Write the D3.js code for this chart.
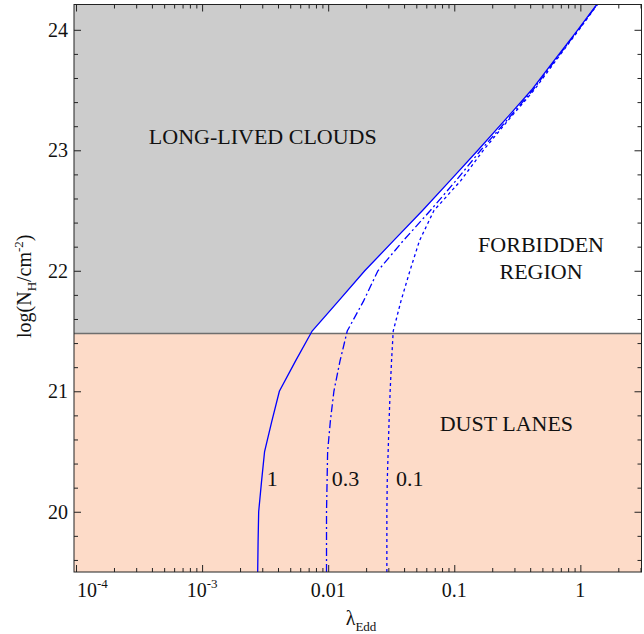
<!DOCTYPE html>
<html>
<head>
<meta charset="utf-8">
<script src="https://cdn.jsdelivr.net/npm/d3@7"></script>
<style>
  body { margin: 0; background: #fff; }
  svg text { font-family: "Liberation Serif", "Times New Roman", serif; fill: #111; }
</style>
</head>
<body>
<div id="chart"></div>
<script>
// log(N_H) grid shared by the three curves
const logNH = [19.5, 19.75, 20.0, 20.25, 20.5, 20.75, 21.0, 21.25, 21.5, 21.75,
  22.0, 22.25, 22.5, 22.75, 23.0, 23.25, 23.5, 23.75, 24.0, 24.25];

// lambda_Edd of each curve
const lambdaOne = [0.00276, 0.00278, 0.00281, 0.00296, 0.00313, 0.00357, 0.0041, 0.0055, 0.00746, 0.0121,
  0.0195, 0.033, 0.056, 0.093, 0.154, 0.252, 0.41, 0.625, 0.955, 1.44];
const lambdaPoint3 = [0.0097, 0.0097, 0.0097, 0.0098, 0.0099, 0.0104, 0.0111, 0.0124, 0.01416, 0.0191,
  0.0248, 0.0394, 0.0646, 0.1035, 0.162, 0.262, 0.42, 0.635, 0.965, 1.45];
const lambdaPoint1 = [0.0292, 0.0292, 0.0292, 0.0294, 0.0299, 0.0304, 0.031, 0.0318, 0.0328, 0.0378,
  0.0445, 0.053, 0.069, 0.113, 0.17, 0.268, 0.43, 0.645, 0.975, 1.46];

const curveNames = ["1", "0.3", "0.1"];
const dustLimit = 21.48; // boundary between dust lanes and clouds

// axis ticks
const xMajor = [1e-4, 1e-3, 0.01, 0.1, 1];
const xMajorText = [["10", "-4"], ["10", "-3"], ["0.01"], ["0.1"], ["1"]];
const yMajor = [20, 21, 22, 23, 24];

// plot frame and styles
const width = 644;
const height = 634;
const plot = { left: 74, right: 641.5, top: 4.5, bottom: 572 };
const colors = {
  clouds: "#cccccc",
  dust: "#fddbc8",
  limit: "#6e6e6e",
  curve: "#0000ff",
  frame: "#222"
};
const dashes = ["none", "8,3,2,3", "3,3"];

const x = d3.scaleLog()
  .domain([Math.pow(10, -4.016), Math.pow(10, 0.485)])
  .range([plot.left, plot.right]);
const y = d3.scaleLinear()
  .domain([19.5, 24.21])
  .range([plot.bottom, plot.top]);

const svg = d3.select("#chart").append("svg")
  .attr("width", width)
  .attr("height", height);

svg.append("rect").attr("width", width).attr("height", height).attr("fill", "#fff");

const defs = svg.append("defs");
defs.append("clipPath").attr("id", "plot-clip")
  .append("rect")
  .attr("x", plot.left).attr("y", plot.top)
  .attr("width", plot.right - plot.left).attr("height", plot.bottom - plot.top);
defs.append("clipPath").attr("id", "cloud-clip")
  .append("rect")
  .attr("x", plot.left).attr("y", plot.top)
  .attr("width", plot.right - plot.left).attr("height", y(dustLimit) - plot.top);

// dust lanes band
svg.append("rect")
  .attr("x", plot.left)
  .attr("y", y(dustLimit))
  .attr("width", plot.right - plot.left)
  .attr("height", plot.bottom - y(dustLimit))
  .attr("fill", colors.dust);

// long-lived clouds: left of the lambda = 1 curve, above the dust limit
const cloudPts = [[x.domain()[0], 21.0]];
logNH.forEach(function(n, i) {
  if (n >= 21.0) cloudPts.push([lambdaOne[i], n]);
});
cloudPts.push([x.domain()[0], logNH[logNH.length - 1]]);

svg.append("path")
  .attr("clip-path", "url(#cloud-clip)")
  .attr("d", d3.line().x(d => x(d[0])).y(d => y(d[1]))(cloudPts) + "Z")
  .attr("fill", colors.clouds);

svg.append("line")
  .attr("x1", plot.left).attr("x2", plot.right)
  .attr("y1", y(dustLimit)).attr("y2", y(dustLimit))
  .attr("stroke", colors.limit)
  .attr("stroke-width", 1.5);

// curves
const curveLine = d3.line()
  .x(d => x(d[0]))
  .y(d => y(d[1]));

[lambdaOne, lambdaPoint3, lambdaPoint1].forEach(function(series, k) {
  svg.append("path")
    .attr("clip-path", "url(#plot-clip)")
    .attr("d", curveLine(series.map((v, i) => [v, logNH[i]])))
    .attr("fill", "none")
    .attr("stroke", colors.curve)
    .attr("stroke-width", 1.3)
    .attr("stroke-dasharray", dashes[k]);
});

// curve labels
const curveLabelPos = [[0.0036, 20.216], [0.01375, 20.216], [0.0443, 20.216]];
curveNames.forEach(function(name, k) {
  svg.append("text")
    .attr("x", x(curveLabelPos[k][0]))
    .attr("y", y(curveLabelPos[k][1]))
    .attr("text-anchor", "middle")
    .attr("font-size", 22)
    .text(name);
});

// region labels
function regionLabel(txt, lam, n) {
  svg.append("text")
    .attr("x", x(lam))
    .attr("y", y(n))
    .attr("text-anchor", "middle")
    .attr("font-size", 22)
    .text(txt);
}
regionLabel("LONG-LIVED CLOUDS", 0.00303, 23.05);
regionLabel("FORBIDDEN", 0.488, 22.153);
regionLabel("REGION", 0.488, 21.93);
regionLabel("DUST LANES", 0.259, 20.672);

// minor ticks
var xMinor = [];
for (var d = -4; d <= 0; d++) {
  for (var k = 2; k <= 9; k++) {
    var v = k * Math.pow(10, d);
    if (v < x.domain()[1]) xMinor.push(v);
  }
}
var yMinor = d3.range(19.6, 24.15, 0.2).filter(v => Math.abs(v - Math.round(v)) > 0.01);

function ticks(axisFn, scale, vals, size, transform) {
  const g = svg.append("g")
    .attr("transform", transform)
    .call(axisFn(scale).tickValues(vals).tickSize(-size).tickFormat(""));
  g.select(".domain").remove();
  g.selectAll("line").attr("stroke", colors.frame).attr("stroke-width", 1);
  g.selectAll("text").remove();
}

ticks(d3.axisBottom, x, xMajor, 7, `translate(0,${plot.bottom})`);
ticks(d3.axisBottom, x, xMinor, 4, `translate(0,${plot.bottom})`);
ticks(d3.axisTop, x, xMajor, 7, `translate(0,${plot.top})`);
ticks(d3.axisTop, x, xMinor, 4, `translate(0,${plot.top})`);
ticks(d3.axisLeft, y, yMajor, 7, `translate(${plot.left},0)`);
ticks(d3.axisLeft, y, yMinor, 4, `translate(${plot.left},0)`);
ticks(d3.axisRight, y, yMajor, 7, `translate(${plot.right},0)`);
ticks(d3.axisRight, y, yMinor, 4, `translate(${plot.right},0)`);

// frame
svg.append("rect")
  .attr("x", plot.left).attr("y", plot.top)
  .attr("width", plot.right - plot.left).attr("height", plot.bottom - plot.top)
  .attr("fill", "none")
  .attr("stroke", colors.frame)
  .attr("stroke-width", 1);

// x tick labels
xMajor.forEach(function(v, i) {
  const t = svg.append("text")
    .attr("x", x(v))
    .attr("y", 597)
    .attr("text-anchor", "middle")
    .attr("font-size", 20);
  t.append("tspan").text(xMajorText[i][0]);
  if (xMajorText[i].length > 1) {
    t.append("tspan").attr("font-size", 13).attr("dy", -9).text(xMajorText[i][1]);
  }
  // keep the first label inside the frame
  const bb = t.node().getBBox();
  if (bb.x < plot.left + 2) {
    t.attr("x", x(v) + (plot.left + 3 - bb.x));
  }
});

// y tick labels
yMajor.forEach(function(v) {
  svg.append("text")
    .attr("x", 68)
    .attr("y", y(v))
    .attr("dy", "0.34em")
    .attr("text-anchor", "end")
    .attr("font-size", 20)
    .text(v);
});

// axis titles
const xt = svg.append("text")
  .attr("x", 361)
  .attr("y", 625)
  .attr("text-anchor", "middle")
  .attr("font-size", 20);
xt.append("tspan").text("λ");
xt.append("tspan").attr("font-size", 13).attr("dy", 6).text("Edd");

const yt = svg.append("text")
  .attr("transform", `translate(31,${(plot.top + plot.bottom) / 2 - 2}) rotate(-90)`)
  .attr("text-anchor", "middle")
  .attr("font-size", 20);
yt.append("tspan").text("log(N");
yt.append("tspan").attr("font-size", 13).attr("dy", 5).text("H");
yt.append("tspan").attr("dy", -5).text("/cm");
yt.append("tspan").attr("font-size", 13).attr("dy", -8).text("-2");
yt.append("tspan").attr("dy", 8).text(")");
</script>
</body>
</html>
